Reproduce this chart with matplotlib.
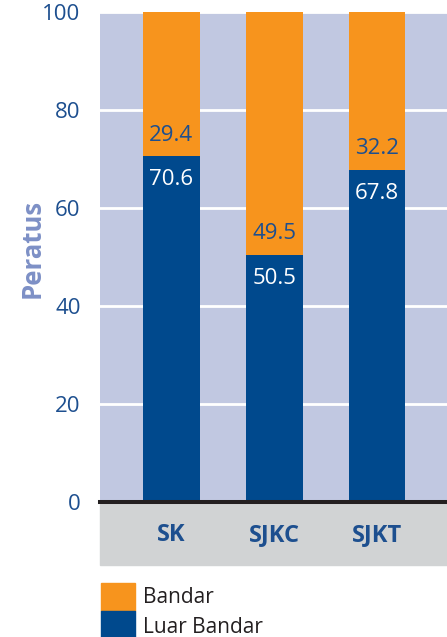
import matplotlib
matplotlib.use("Agg")
import matplotlib.pyplot as plt
from matplotlib.patches import Rectangle

categories = ["SK", "SJKC", "SJKT"]
luar_bandar = [70.6, 50.5, 67.8]
bandar = [29.4, 49.5, 32.2]
series_names = ["Bandar", "Luar Bandar"]
yticks = [0, 20, 40, 60, 80, 100]

ORANGE = "#F7941D"
NAVY = "#00498D"
BG = "#C1C8E1"
GREY = "#D1D3D4"
TXT = "#1D4F8F"

plt.rcParams["font.family"] = ["Open Sans", "DejaVu Sans"]
FS = 16

W, H = 447, 637
fig = plt.figure(figsize=(W / 100, H / 100), dpi=100)
ax = fig.add_axes([100 / W, (H - 502) / H, 1 - 100 / W, 490 / H])
ax.set_facecolor(BG)

x = list(range(len(categories)))
ax.bar(x, luar_bandar, width=0.55, color=NAVY, zorder=3)
ax.bar(x, bandar, width=0.55, bottom=luar_bandar, color=ORANGE, zorder=3)

for xi, lb, b in zip(x, luar_bandar, bandar):
    ax.annotate(f"{b}", (xi, lb), xytext=(0, 15), textcoords="offset points",
                ha="center", va="center", color=TXT, fontsize=FS, zorder=4)
    ax.annotate(f"{lb}", (xi, lb), xytext=(0, -17), textcoords="offset points",
                ha="center", va="center", color="white", fontsize=FS, zorder=4)

ax.set_xlim(-0.694, 2.68)
ax.set_ylim(0, 100)
ax.set_yticks(yticks)
ax.yaxis.grid(True, color="white", linewidth=2, zorder=1)
ax.set_axisbelow(True)
ax.tick_params(axis="y", length=0, pad=14, labelsize=FS, labelcolor=TXT)
ax.set_xticks(x)
ax.set_xticklabels(categories, fontsize=17, fontweight="bold", color=TXT)
ax.tick_params(axis="x", length=0, pad=15)
for s in ["top", "right", "left"]:
    ax.spines[s].set_visible(False)
ax.spines["bottom"].set_color("#231F20")
ax.spines["bottom"].set_linewidth(2.9)
ax.spines["bottom"].set_zorder(5)

fig.patches.append(Rectangle((100 / W, (H - 565) / H), 1 - 100 / W, 61 / H,
                             transform=fig.transFigure, color=GREY, zorder=-1))

fig.text(32 / W, (H - 248) / H, "Peratus", rotation=90, ha="center", va="center",
         fontsize=18.5, fontweight="bold", color="#7D90C6")

# legend
for i, (name, col) in enumerate(zip(series_names, [ORANGE, NAVY])):
    top = 583 + i * 28
    fig.patches.append(Rectangle((101 / W, (H - top - 28) / H), 34 / W, 28 / H,
                                 transform=fig.transFigure, color=col))
    fig.text(143 / W, (H - (603 + i * 30)) / H, name, ha="left", va="baseline",
             fontsize=15, color="#231F20")

fig.savefig("out.png", dpi=100)
